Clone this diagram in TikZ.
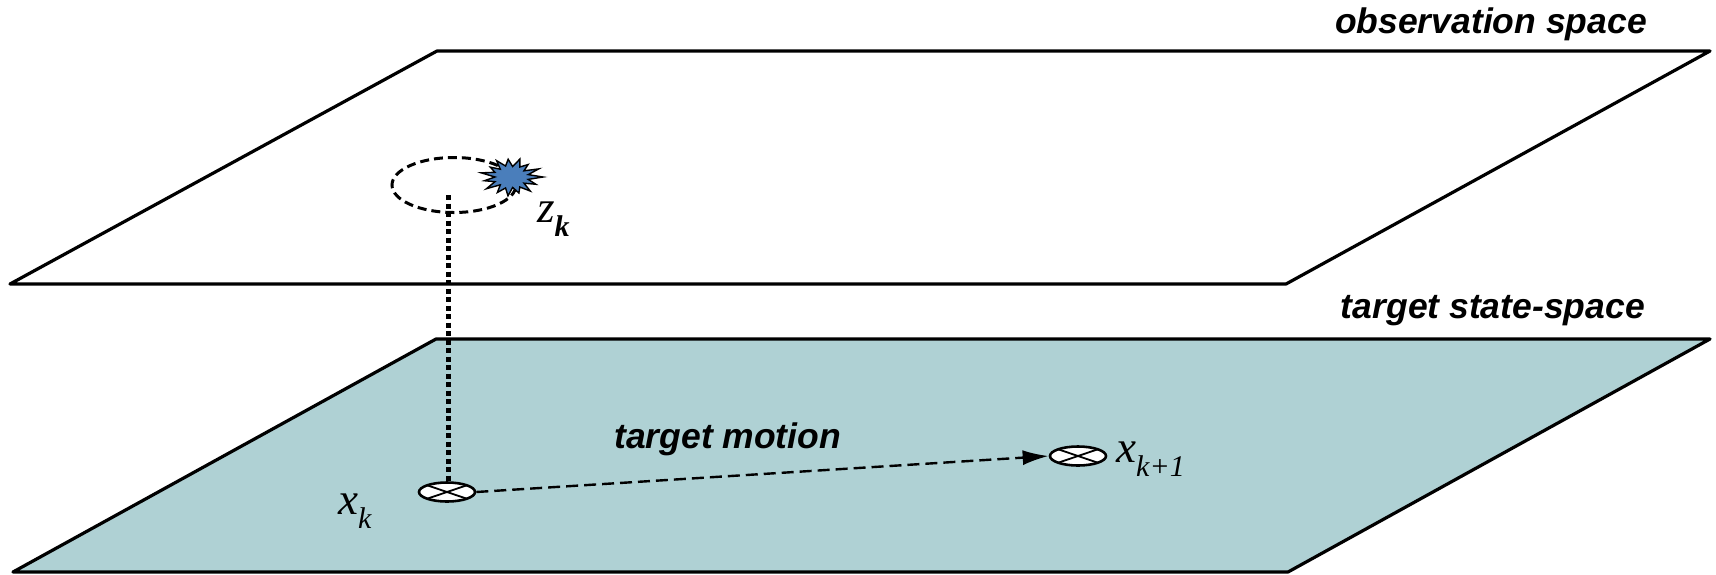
\documentclass[tikz,border=0pt]{standalone}
\usepackage{fontspec}
\setmainfont{Liberation Serif}
\newfontfamily\labfont{Liberation Sans}
\usetikzlibrary{shapes.geometric,arrows.meta,calc}
\definecolor{planeteal}{RGB}{175,209,212}
\definecolor{starblue}{RGB}{74,126,187}
\tikzset{
  plane/.style={draw=black, line width=3.2pt, line join=round},
  boldlab/.style={font=\labfont\bfseries\itshape\fontsize{35.5}{35.5}\selectfont, inner sep=0pt},
  marker/.style={ellipse, draw=black, fill=white, line width=2.6pt, minimum width=56pt, minimum height=19pt, inner sep=0pt,
    path picture={\draw[line width=1.8pt] (path picture bounding box.north west) -- (path picture bounding box.south east)
      (path picture bounding box.south west) -- (path picture bounding box.north east);}},
  varlabel/.style={font=\itshape\fontsize{45}{45}\selectfont, inner sep=0pt},
}
\newcommand{\subk}[1]{\raisebox{-0.32em}{\fontsize{30}{30}\selectfont #1}}
\begin{document}
\begin{tikzpicture}[x=1pt,y=-1pt]
\useasboundingbox (0,0) rectangle (1716,574);
% observation plane
\draw[plane, fill=white] (437,51) -- (1710,51) -- (1286,284) -- (10,284) -- cycle;
% target state plane
\draw[plane, fill=planeteal] (436,339) -- (1710,339) -- (1288,572) -- (13,572) -- cycle;
% labels of the planes
\node[boldlab, anchor=base east] (obslab) at (1647,33) {observation space};
\node[boldlab, anchor=base east] (statelab) at (1645,318) {target state-space};
% dashed ellipse in observation space
\node[ellipse, draw=black, dash pattern=on 9pt off 5pt, line width=3pt, minimum width=124pt, minimum height=55pt, inner sep=0pt] (obs) at (454,185) {};
% star burst (measurement)
\coordinate (zc) at (511,177);
\fill[starblue, draw=black, line width=1.4pt, line join=miter]
  ($(zc)+(0:32 and 21)$)
  \foreach \a/\r in {12/0.55,24/0.85,36/0.5,48/0.9,60/0.55,72/0.8,84/0.5,96/0.9,108/0.55,120/0.85,132/0.5,144/0.95,156/0.55,168/0.85,180/0.5,192/0.95,204/0.55,216/0.8,228/0.5,240/0.9,252/0.55,264/0.85,276/0.5,288/0.9,300/0.55,312/0.8,324/0.5,336/0.95,348/0.55} {
    -- ($(zc)+({\a}:{\r*32} and {\r*21})$)
  } -- cycle;
\node[varlabel, anchor=base west] (zk) at (537,222) {z\subk{\bfseries k}};
% markers
\node[marker] (xk) at (447,492) {};
\node[marker] (xk1) at (1078,456) {};
\node[varlabel, anchor=base west] (xklab) at (338,514) {x\subk{k}};
\node[varlabel, anchor=base west] (xk1lab) at (1116,462) {x\subk{k+1}};
% connectors
\coordinate (dtop) at ($(obs.center)+(-6,10)$);
\draw[line width=5pt, dash pattern=on 5pt off 3.5pt] (dtop) -- (dtop |- xk.north);
\draw[line width=2.4pt, dash pattern=on 12pt off 6pt, -{Latex[length=26pt,width=15pt]}] (xk.east) -- (xk1.west);
\node[boldlab, anchor=base west] (motion) at (614,448) {target motion};
\end{tikzpicture}
\end{document}
